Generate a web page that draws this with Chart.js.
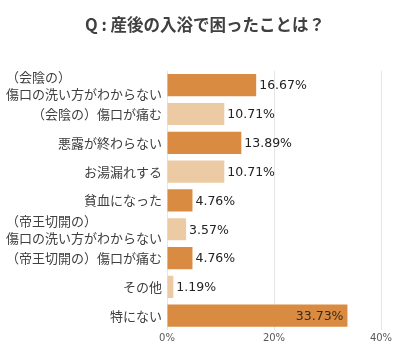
<!DOCTYPE html>
<html>
<head>
<meta charset="utf-8">
<script src="https://cdn.jsdelivr.net/npm/chart.js@4/dist/chart.umd.min.js"></script>
<style>
  html, body { margin: 0; padding: 0; background: #fff; }
  #wrap { width: 404px; height: 352px; }
</style>
</head>
<body>
<div id="wrap"><canvas id="chart" width="404" height="352"></canvas></div>
<script>
// keeps the short first line of a 2-line label flush left (canvas collapses plain runs of spaces)
const pad = n => '\u3000\u2060'.repeat(n) + '\u2002';

const titleText = 'Q : 産後の入浴で困ったことは？';
const categories = [
  ['（会陰の）' + pad(7), '傷口の洗い方がわからない'],
  '（会陰の）傷口が痛む',
  '悪露が終わらない',
  'お湯漏れする',
  '貧血になった',
  ['（帝王切開の）' + pad(5), '傷口の洗い方がわからない'],
  '（帝王切開の）傷口が痛む',
  'その他',
  '特にない'
];
const percentValues = [16.67, 10.71, 13.89, 10.71, 4.76, 3.57, 4.76, 1.19, 33.73];
const xTicks = [0, 20, 40];

const DARK = '#D98B41';
const LIGHT = '#EBCAA4';
const barColors = percentValues.map((v, i) => i % 2 === 0 ? DARK : LIGHT);

// values next to (or inside, for the longest) each bar
const valueLabels = {
  id: 'valueLabels',
  afterLayout(chart) {
    // centre the title on the whole canvas, not on the padded box
    chart.titleBlock.left = 6;
    chart.titleBlock.right = chart.width;
  },
  afterDatasetsDraw(chart) {
    const ctx = chart.ctx;
    const meta = chart.getDatasetMeta(0);
    const maxIdx = percentValues.indexOf(Math.max(...percentValues));
    ctx.save();
    ctx.font = '12.5px "DejaVu Sans", Verdana, sans-serif';
    ctx.textBaseline = 'middle';
    meta.data.forEach((bar, i) => {
      const txt = percentValues[i].toFixed(2) + '%';
      if (i === maxIdx) {
        ctx.textAlign = 'right';
        ctx.fillStyle = '#3a2a1c';
        ctx.fillText(txt, bar.x - 4, bar.y + 1);
      } else {
        ctx.textAlign = 'left';
        ctx.fillStyle = '#222';
        ctx.fillText(txt, bar.x + 3, bar.y + 1);
      }
    });
    ctx.restore();
  }
};

new Chart(document.getElementById('chart'), {
  type: 'bar',
  data: {
    labels: categories,
    datasets: [{
      data: percentValues,
      backgroundColor: barColors,
      borderWidth: 0,
      barPercentage: 0.77,
      categoryPercentage: 1
    }]
  },
  options: {
    indexAxis: 'y',
    responsive: false,
    animation: false,
    layout: { padding: { left: 4, right: 23, top: 0, bottom: 4 } },
    plugins: {
      legend: { display: false },
      tooltip: { enabled: false },
      title: {
        display: true,
        text: titleText,
        color: '#404040',
        font: { family: '"Noto Sans CJK JP", sans-serif', size: 16.5, weight: 'bold' },
        padding: { top: 15, bottom: 36 }
      }
    },
    scales: {
      x: {
        min: 0,
        max: 40,
        afterBuildTicks(scale) { scale.ticks = xTicks.map(v => ({ value: v })); },
        grid: { color: '#e6e6e6', drawTicks: false },
        border: { display: false },
        ticks: {
          color: '#595959',
          padding: 2,
          font: { family: '"DejaVu Sans", Verdana, sans-serif', size: 10 },
          callback: v => v + '%'
        }
      },
      y: {
        afterFit(scale) { scale.width = 163; },
        grid: { display: false, drawTicks: false },
        border: { display: false },
        ticks: {
          autoSkip: false,
          color: '#404040',
          padding: 5,
          font: { family: '"Noto Sans CJK JP", sans-serif', size: 13, lineHeight: 1.3 }
        }
      }
    }
  },
  plugins: [valueLabels]
});
</script>
</body>
</html>
